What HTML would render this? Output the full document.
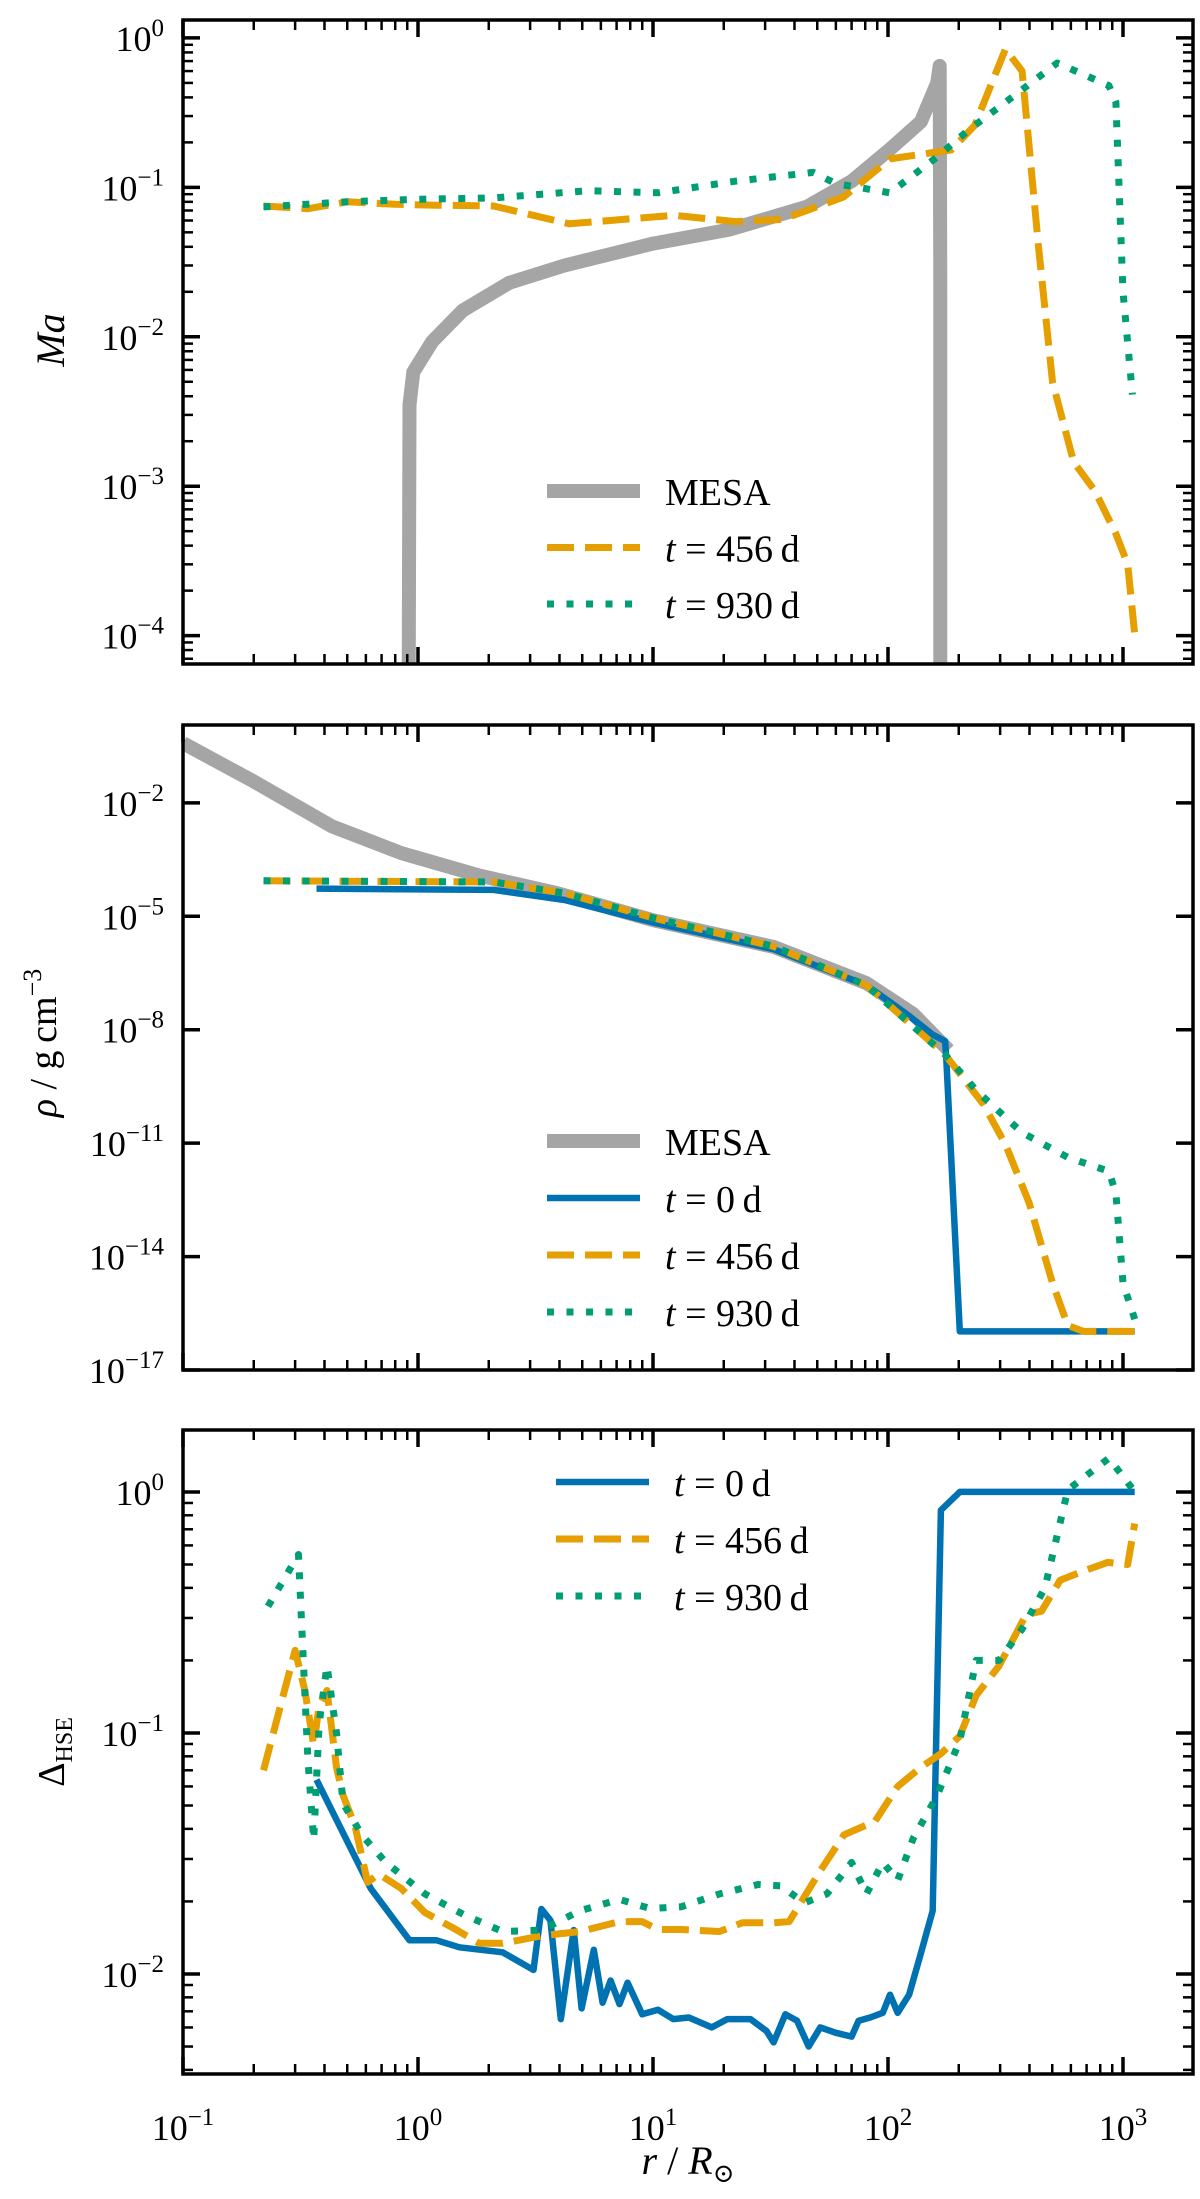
<!DOCTYPE html>
<html><head><meta charset="utf-8">
<style>
html,body{margin:0;padding:0;background:#fff;}
svg{display:block;}
text{font-family:"Liberation Serif","DejaVu Serif",serif;fill:#000;}
</style></head>
<body>
<svg id="fig" width="1200" height="2199" viewBox="0 0 1200 2199" xmlns="http://www.w3.org/2000/svg"></svg>
<script>
// ---------- data ----------
// Panel 1: Mach number
const maMesaR   = [0.91,0.92,0.955,1.15,1.55,2.45,4.2,10,21,45,70,102,138,162,166,167,167];
const maMesaV   = [1e-5,3.5e-3,5.8e-3,9.3e-3,1.5e-2,2.3e-2,3.0e-2,4.2e-2,5.2e-2,7.4e-2,1.1e-1,1.8e-1,2.75e-1,5.0e-1,6.5e-1,2e-2,1e-5];
const ma456R    = [0.22,0.34,0.5,0.8,1.2,2.1,4.4,12.3,22.4,35.5,64.6,102,186,234,316,372,437,501,617,759,933,1047,1122];
const ma456V    = [0.075,0.072,0.08,0.077,0.076,0.075,0.057,0.065,0.059,0.061,0.086,0.155,0.178,0.26,0.84,0.6,0.04,5e-3,1.45e-3,9.3e-4,4.8e-4,3e-4,1.02e-4];
const ma930R    = [0.22,0.5,0.96,2.1,5.3,10.5,22.4,48,60,102,162,219,372,525,871,933,1000,1096];
const ma930V    = [0.074,0.08,0.083,0.085,0.095,0.092,0.11,0.126,0.106,0.092,0.16,0.24,0.45,0.68,0.48,0.37,0.02,4.1e-3];
// Panel 2: density
const rhoMesaR  = [0.1,0.2,0.43,0.85,1.82,3.9,10,32.6,81,128,181];
const rhoMesaV  = [0.38,0.037,2.4e-3,4.7e-4,1.2e-4,4.1e-5,7.9e-6,1.55e-6,1.7e-7,2.6e-8,2.9e-9];
const rho0R     = [0.37,2.1,4.2,10,32.6,81,120,155,175,177,202,1122];
const rho0V     = [5.4e-5,5e-5,2.7e-5,6.9e-6,1.35e-6,1.5e-7,2.6e-8,7.4e-9,5e-9,1.7e-9,1.05e-16,1.05e-16];
const rho456R   = [0.22,2.1,4.2,10,32.6,81,175,254,316,398,501,582,680,1122];
const rho456V   = [8.7e-5,8.1e-5,4.1e-5,9.1e-6,1.6e-6,1.5e-7,2.2e-9,1.1e-10,9.3e-12,2.7e-13,2e-15,1.5e-16,1.05e-16,1.05e-16];
const rho930R   = [0.22,2.1,4.2,10,32.6,81,175,237,372,582,871,933,1000,1122];
const rho930V   = [8.7e-5,8.1e-5,4.1e-5,9.1e-6,1.6e-6,1.5e-7,2.2e-9,2.5e-10,1.9e-11,4.2e-12,1.8e-12,4.7e-13,2e-15,2.2e-16];
// Panel 3: Delta HSE
const hse0R   = [0.37,0.63,0.92,1.2,1.5,2.29,3.1,3.35,3.66,4.05,4.6,4.97,5.6,6.1,6.6,7.2,7.8,9,10.5,12.2,14.2,17.8,20.7,26,30.4,32.6,36.6,41,46,51.5,60,70,75,84,95,102,110,123,138,155,168,202,1122];
const hse0V   = [0.064,0.0226,0.0138,0.0138,0.0129,0.0123,0.0104,0.0186,0.0167,0.0065,0.0152,0.0072,0.0126,0.0076,0.0094,0.0075,0.0092,0.0068,0.0071,0.0065,0.0066,0.006,0.0065,0.0065,0.0058,0.0052,0.0068,0.0064,0.005,0.006,0.0057,0.0055,0.0064,0.0066,0.0069,0.0082,0.0069,0.0082,0.0122,0.0183,0.84,1.0,1.0];
const hse456R = [0.22,0.3,0.33,0.36,0.38,0.41,0.45,0.48,0.54,0.61,0.68,0.85,1.07,1.45,1.82,2.29,3.35,4.9,7.2,9,10.5,13.2,19.2,24,32.6,38,51.5,65,88,110,138,168,202,237,297,387,450,540,680,860,1047,1122];
const hse456V = [0.070,0.22,0.15,0.089,0.13,0.15,0.072,0.055,0.041,0.024,0.026,0.0226,0.018,0.0153,0.0134,0.0134,0.0144,0.015,0.0165,0.0165,0.0153,0.0153,0.015,0.0163,0.0163,0.0165,0.0268,0.0378,0.043,0.060,0.072,0.082,0.097,0.143,0.19,0.31,0.32,0.43,0.47,0.51,0.5,0.74];
const hse930R = [0.23,0.31,0.32,0.34,0.36,0.38,0.41,0.45,0.48,0.58,0.73,1.07,1.57,2.29,3.35,4.9,7.2,9.7,13.2,19.2,28,35,44,55,70,81,95,110,128,162,202,237,297,372,465,582,871,1000,1122];
const hse930V = [0.335,0.55,0.28,0.078,0.036,0.11,0.19,0.1,0.051,0.0375,0.029,0.0215,0.0176,0.015,0.0152,0.0183,0.0204,0.0187,0.019,0.0215,0.0235,0.0232,0.0197,0.0215,0.029,0.0215,0.029,0.0245,0.0365,0.055,0.093,0.2,0.2,0.27,0.4,1.02,1.38,1.16,1.0];
const xTickLabels = ["\u22121","0","1","2","3"];

// ---------- layout ----------
const NS="http://www.w3.org/2000/svg";
const svg=document.getElementById('fig');
const XL=183, XR=1193, XMIN=-1, XMAX=-1+(XR-XL)/235;
const C={mesa:'#a5a5a5',b:'#0072b2',o:'#e69f00',g:'#009e73'};
function mk(tag,attrs,parent){const e=document.createElementNS(NS,tag);for(const k in attrs)e.setAttribute(k,attrs[k]);(parent||svg).appendChild(e);return e;}
function xs(r){return XL+(Math.log10(r)-XMIN)/(XMAX-XMIN)*(XR-XL);}

function panel(name,top,bot,ymin,ymax,majorStep,minor,labels,showX){
  const g=mk('g',{});
  
  
  const ys=v=>bot-(Math.log10(v)-ymin)/(ymax-ymin)*(bot-top);
  const clip=mk('clipPath',{id:'c'+name},g);
  mk('rect',{x:XL,y:top,width:XR-XL,height:bot-top},clip);
  const plot=mk('g',{'clip-path':'url(#c'+name+')'},g);
  for(let d=-1;d<=3;d++){
    for(let m=1;m<=9;m++){
      const lv=d+Math.log10(m); if(lv<XMIN-1e-9||lv>XMAX) continue;
      const x=XL+(lv-XMIN)/(XMAX-XMIN)*(XR-XL);
      const L=m===1?17:10, w=m===1?3.5:2.5;
      const t1=mk('line',{x1:x,x2:x,y1:bot,y2:bot-L,stroke:'#000','stroke-width':w},g);
      
      
      mk('line',{x1:x,x2:x,y1:top,y2:top+L,stroke:'#000','stroke-width':w},g);
      if(m===1&&showX){
        const tx=mk('text',{x:x,y:bot+66,'font-size':36,'text-anchor':'middle'},g);
        
        
        tx.textContent='10';
        const s=mk('tspan',{'font-size':25,dy:-15},tx); s.textContent=xTickLabels[d+1];
      }
    }
  }
  for(let d=Math.floor(ymin);d<=Math.ceil(ymax);d++){
    for(let m=1;m<=9;m++){
      if(m>1&&!minor) continue;
      const lv=d+Math.log10(m); if(lv<ymin||lv>ymax) continue;
      if(m===1&&((d%majorStep)+majorStep)%majorStep!==((Math.round(ymin)%majorStep)+majorStep)%majorStep&&majorStep>1) continue;
      const y=bot-(lv-ymin)/(ymax-ymin)*(bot-top);
      const L=m===1?17:10, w=m===1?3.5:2.5;
      const t=mk('line',{x1:XL,x2:XL+L,y1:y,y2:y,stroke:'#000','stroke-width':w},g);
      
      
      mk('line',{x1:XR,x2:XR-L,y1:y,y2:y,stroke:'#000','stroke-width':w},g);
      if(m===1){
        const tx=mk('text',{x:164,y:y+13,'font-size':36,'text-anchor':'end'},g);
        
        
        const a=mk('tspan',{},tx); a.textContent='10';
        const s=mk('tspan',{'font-size':25,dy:-15},tx); s.textContent=(d<0?'\u2212'+(-d):String(d));
      }
    }
  }
  mk('rect',{x:XL,y:top,width:XR-XL,height:bot-top,fill:'none',stroke:'#000','stroke-width':3.5},g);
  return {plot,ys,g};
}
function series(p,R,V,style,name){
  let d='';
  for(let i=0;i<R.length;i++){d+=(i?'L':'M')+xs(R[i]).toFixed(1)+' '+p.ys(V[i]).toFixed(1);}
  const a={d:d,fill:'none','stroke-linejoin':'round'};
  Object.assign(a,style);
  const e=mk('path',a,p.plot);
  
  
}
const MESA={stroke:C.mesa,'stroke-width':14,'stroke-linecap':'butt'};
const S0={stroke:C.b,'stroke-width':6.5};
const S456={stroke:C.o,'stroke-width':7,'stroke-dasharray':'27 11'};
const S930={stroke:C.g,'stroke-width':7,'stroke-dasharray':'7 12.5'};

function legend(x,y0,dy,items,pname){
  const g=mk('g',{});
  
  
  items.forEach((it,i)=>{
    const y=y0+i*dy;
    const e=mk('g',{},g);
    
    
    const a={x1:x,x2:x+93,y1:y,y2:y};Object.assign(a,it[0]);
    mk('line',a,e);
    const t=mk('text',{x:x+118,y:y+14,'font-size':38},e);
    if(it[1]==='MESA'){t.textContent='MESA';}
    else{const ti=mk('tspan',{'font-style':'italic'},t);ti.textContent='t';
      const r=mk('tspan',{},t);r.textContent=' = '+it[1]+'\u2009d';}
  });
}

// Panel 1
const p1=panel('mach-panel',20,664,-4.19,0.12,1,true,null,false);
series(p1,maMesaR,maMesaV,MESA,'mesa-line');
series(p1,ma456R,ma456V,S456,'t456-line');
series(p1,ma930R,ma930V,S930,'t930-line');
legend(547,491,56.5,[[MESA,'MESA'],[S456,'456'],[S930,'930']],'mach');
let t=mk('text',{x:0,y:0,'font-size':40,'font-style':'italic','text-anchor':'middle',transform:'translate(64,340) rotate(-90)'});
t.textContent='Ma';

// Panel 2
const p2=panel('density-panel',725,1370,-17,0.06,3,false,null,false);
series(p2,rhoMesaR,rhoMesaV,MESA,'mesa-line');
series(p2,rho0R,rho0V,S0,'t0-line');
series(p2,rho456R,rho456V,S456,'t456-line');
series(p2,rho930R,rho930V,S930,'t930-line');
legend(547,1141,57,[[MESA,'MESA'],[S0,'0'],[S456,'456'],[S930,'930']],'density');
t=mk('text',{x:0,y:0,'font-size':38,'text-anchor':'middle',transform:'translate(56,1043) rotate(-90)'});

let ts=mk('tspan',{'font-style':'italic'},t);ts.textContent='\u03c1';
ts=mk('tspan',{},t);ts.textContent=' / g\u2009cm';
ts=mk('tspan',{'font-size':26,dy:-15},t);ts.textContent='\u22123';

// Panel 3
const p3=panel('hse-panel',1430,2074,-2.415,0.257,1,true,null,true);
series(p3,hse0R,hse0V,S0,'t0-line');
series(p3,hse456R,hse456V,S456,'t456-line');
series(p3,hse930R,hse930V,S930,'t930-line');
legend(556,1482,57,[[S0,'0'],[S456,'456'],[S930,'930']],'hse');
t=mk('text',{x:0,y:0,'font-size':38,'text-anchor':'middle',transform:'translate(64,1752) rotate(-90)'});

ts=mk('tspan',{},t);ts.textContent='\u0394';
ts=mk('tspan',{'font-size':24,dy:8},t);ts.textContent='HSE';

t=mk('text',{x:688,y:2174,'font-size':40,'text-anchor':'middle'});

ts=mk('tspan',{'font-style':'italic'},t);ts.textContent='r';
ts=mk('tspan',{},t);ts.textContent=' / ';
ts=mk('tspan',{'font-style':'italic'},t);ts.textContent='R';
ts=mk('tspan',{'font-size':26,dy:8},t);ts.textContent='\u2299';
</script>
</body></html>
